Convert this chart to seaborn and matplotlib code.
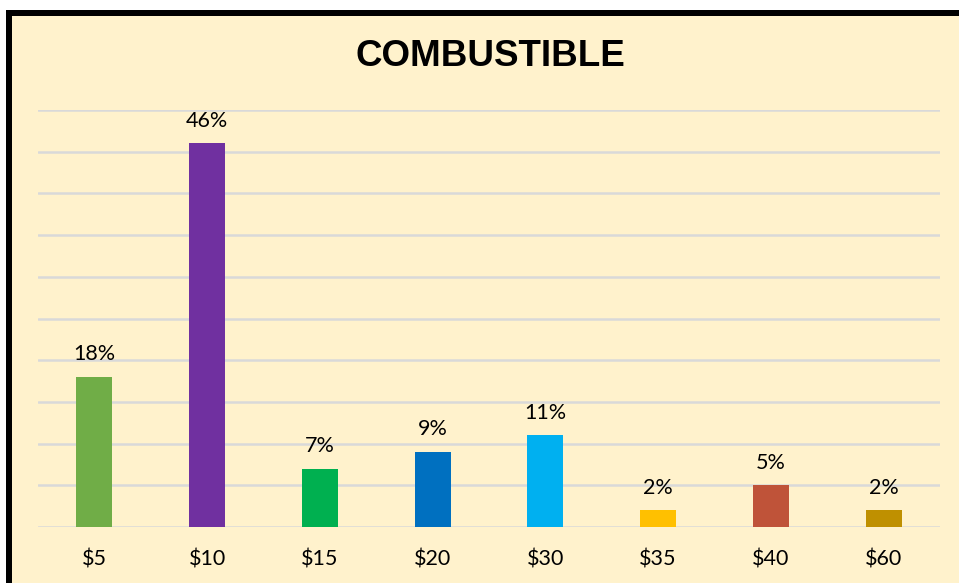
import matplotlib
matplotlib.use("Agg")
import matplotlib.pyplot as plt
from matplotlib.patches import Rectangle
import seaborn as sns
import pandas as pd

# datos del grafico
categorias = ["$5", "$10", "$15", "$20", "$30", "$35", "$40", "$60"]
porcentajes = [18, 46, 7, 9, 11, 2, 5, 2]
colores = ["#70AD47", "#7030A0", "#00B050", "#0070C0", "#00B0F0", "#FFC000", "#BF5339", "#BF9000"]

W, H = 959, 583
crema = "#FFF2CC"

sns.set_theme(style="white")
plt.rcParams["font.family"] = ["Lato", "DejaVu Sans"]

fig = plt.figure(figsize=(W / 100, H / 100), dpi=100)
fig.patch.set_facecolor("white")

# marco negro + fondo crema
fig.add_artist(Rectangle((6 / W, 0), 1, (H - 10) / H, transform=fig.transFigure,
                         facecolor="black", edgecolor="none", zorder=0))
fig.add_artist(Rectangle((12 / W, 0), 1, (H - 16) / H, transform=fig.transFigure,
                         facecolor=crema, edgecolor="none", zorder=0))

ax = fig.add_axes([38 / W, (H - 527) / H, (940 - 38) / W, (527 - 110) / H])
ax.set_facecolor("none")

df = pd.DataFrame({"precio": categorias, "pct": porcentajes})
sns.barplot(data=df, x="precio", y="pct", hue="precio", palette=colores,
            width=0.32, legend=False, ax=ax, zorder=3, saturation=1, linewidth=0)

ax.set_ylim(0, 50)
ax.set_xlim(-0.5, len(categorias) - 0.5)
ax.set_yticks(range(0, 51, 5))
ax.yaxis.grid(True, color="#D9D9D9", linewidth=1.8, zorder=0)
ax.set_axisbelow(True)
ax.set_yticklabels([])
ax.tick_params(axis="y", length=0)
ax.tick_params(axis="x", length=0, labelsize=15.5, pad=16, colors="black")
ax.set_xlabel("")
ax.set_ylabel("")
for s in ax.spines.values():
    s.set_visible(False)

for i, v in enumerate(porcentajes):
    ax.annotate(f"{v}%", (i, v), xytext=(0, 9), textcoords="offset points",
                ha="center", va="bottom", fontsize=15.5, color="black")

fig.text(490 / W, (H - 57) / H, "COMBUSTIBLE", ha="center", va="center",
         fontsize=26.5, fontweight="bold", family="Liberation Sans", color="black")

fig.savefig("out.png", dpi=100)
